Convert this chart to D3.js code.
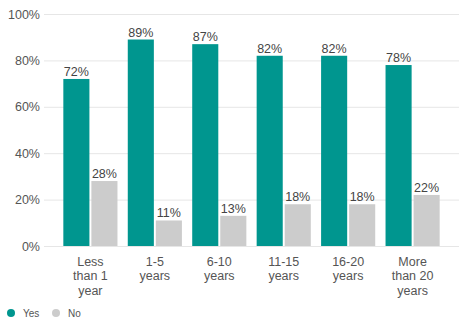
<!DOCTYPE html>
<html>
<head>
<meta charset="utf-8">
<script src="https://cdn.jsdelivr.net/npm/d3@7"></script>
<style>
  html, body { margin: 0; padding: 0; background: #fff; }
  svg { display: block; font-family: "Liberation Sans", Arial, sans-serif; }
</style>
</head>
<body>
<svg id="chart" width="459" height="323"></svg>
<script>
// Tenure groups and the share answering Yes / No in each
const categories = [
  ["Less", "than 1", "year"],
  ["1-5", "years"],
  ["6-10", "years"],
  ["11-15", "years"],
  ["16-20", "years"],
  ["More", "than 20", "years"]
];
const yesValues = [72, 89, 87, 82, 82, 78];
const noValues  = [28, 11, 13, 18, 18, 22];
const seriesNames = ["Yes", "No"];
const seriesColors = ["#00968f", "#cccccc"];
const yTicks = [0, 20, 40, 60, 80, 100];

const svg = d3.select("#chart");
const plot = { left: 44, right: 459, top: 14, bottom: 246 };

const rows = categories.map((c, i) => ({ key: i, label: c, values: [yesValues[i], noValues[i]] }));

const x0 = d3.scaleBand()
  .domain(rows.map(d => d.key))
  .range([plot.left, plot.right])
  .paddingInner(0.16)
  .paddingOuter(0.3);

const x1 = d3.scaleBand()
  .domain(d3.range(seriesNames.length))
  .range([0, x0.bandwidth()])
  .paddingInner(0.07);

const y = d3.scaleLinear().domain([0, 100]).range([plot.bottom, plot.top]);

// Horizontal gridlines with percentage labels
const yAxis = d3.axisLeft(y)
  .tickValues(yTicks)
  .tickFormat(d => d + "%")
  .tickSize(-(plot.right - plot.left))
  .tickPadding(4);

const ya = svg.append("g")
  .attr("transform", `translate(${plot.left},0)`)
  .call(yAxis);
ya.select(".domain").remove();
ya.selectAll(".tick line").attr("stroke", "#e6e6e6").attr("stroke-width", 1);
ya.selectAll(".tick text")
  .attr("fill", "#555")
  .attr("font-size", 12.5);

// Bars
const groups = svg.append("g").selectAll("g")
  .data(rows)
  .join("g")
  .attr("transform", d => `translate(${x0(d.key)},0)`);

groups.selectAll("rect")
  .data(d => d.values.map((v, j) => ({ v, j })))
  .join("rect")
  .attr("x", d => x1(d.j))
  .attr("width", x1.bandwidth())
  .attr("y", d => y(d.v))
  .attr("height", d => y(0) - y(d.v))
  .attr("fill", d => seriesColors[d.j]);

// Value labels above bars
groups.selectAll("text.val")
  .data(d => d.values.map((v, j) => ({ v, j })))
  .join("text")
  .attr("class", "val")
  .attr("x", d => x1(d.j) + x1.bandwidth() / 2)
  .attr("y", d => y(d.v) - 3)
  .attr("text-anchor", "middle")
  .attr("fill", "#444")
  .attr("font-size", 12.5)
  .text(d => d.v + "%");

// Category labels (multi-line)
const xl = svg.append("g");
rows.forEach(d => {
  const t = xl.append("text")
    .attr("text-anchor", "middle")
    .attr("fill", "#555")
    .attr("font-size", 12.5)
    .attr("x", x0(d.key) + x0.bandwidth() / 2)
    .attr("y", 266);
  d.label.forEach((line, k) => {
    t.append("tspan")
      .attr("x", x0(d.key) + x0.bandwidth() / 2)
      .attr("dy", k === 0 ? 0 : 14.3)
      .text(line);
  });
});

// Legend
const legendX = [11, 56];
const legend = svg.append("g");
seriesNames.forEach((name, i) => {
  legend.append("circle")
    .attr("cx", legendX[i])
    .attr("cy", 313)
    .attr("r", 4)
    .attr("fill", seriesColors[i]);
  legend.append("text")
    .attr("x", legendX[i] + 12)
    .attr("y", 313)
    .attr("dy", "0.35em")
    .attr("fill", "#555")
    .attr("font-size", 10)
    .text(name);
});
</script>
</body>
</html>
